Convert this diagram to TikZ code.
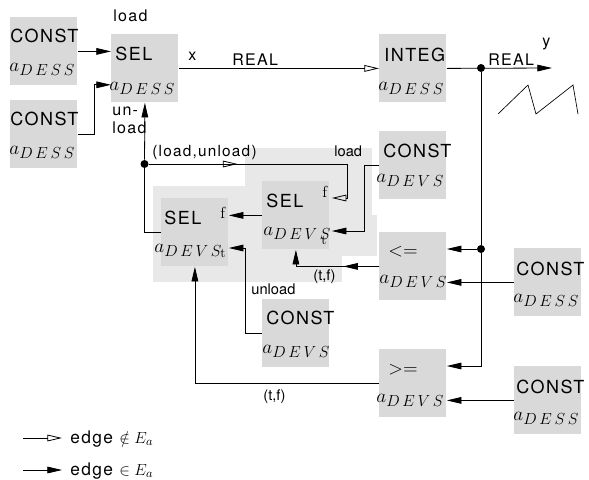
\documentclass[tikz,border=0pt]{standalone}
\usepackage{fontspec}
\setsansfont{TeX Gyre Heros}[LetterSpace=8]
\newfontfamily\compactsf{TeX Gyre Heros}
\DeclareMathSizes{14.4}{14.4}{12}{8}
\usetikzlibrary{arrows.meta,calc}
\definecolor{boxgray}{gray}{0.85}
\definecolor{netgray}{gray}{0.91}

\begin{document}
\begin{tikzpicture}[x=0.75pt,y=-0.75pt,line width=0.6pt,
    box/.style={fill=boxgray,draw=none,anchor=north west,inner sep=0pt,
      minimum width=50.25pt,minimum height=51pt},
    btitle/.style={anchor=base west,inner sep=0pt,font=\sffamily\fontsize{13.5}{16}\selectfont},
    bsub/.style={anchor=base west,inner sep=0pt,font=\fontsize{14.4}{17}\selectfont},
    lbl/.style={anchor=base west,inner sep=0pt,font=\sffamily\fontsize{12}{14}\selectfont},
    lbls/.style={anchor=base west,inner sep=0pt,font=\compactsf\fontsize{11}{13}\selectfont},
    port/.style={anchor=base west,inner sep=0pt,font=\rmfamily\fontsize{12}{14}\selectfont},
    tport/.style={port,font=\rmfamily\fontsize{10}{12}\selectfont},
    fa/.style={-{Triangle[length=11pt,width=5pt]}},
    oa/.style={-{Triangle[open,length=11pt,width=5pt]}},
    dot/.style={circle,fill,inner sep=0pt,minimum size=6pt}]
  \useasboundingbox (0,0) rectangle (589,479);

  % DEVS network behind the two SEL blocks
  \fill[netgray] (153,186) rectangle (342,282);
  \fill[netgray] (245,148) rectangle (372,256);
  \fill[netgray] (245,215) rectangle (377,256);

  % blocks
  \node[box] (c1) at (10,17) {};
  \node[btitle] (c1t) at (10,42) {CONST};
  \node[bsub] (c1s) at (9,71) {$a_{D\,E\,S\,S}$};

  \node[box] (c2) at (10,100) {};
  \node[btitle] (c2t) at (10,125) {CONST};
  \node[bsub] (c2s) at (9,154) {$a_{D\,E\,S\,S}$};

  \node[box] (seld) at (111,34) {};
  \node[btitle] (seldt) at (115,60) {SEL};
  \node[bsub] (selds) at (109,90) {$a_{D\,E\,S\,S}$};

  \node[box] (integ) at (379,34) {};
  \node[btitle] (integt) at (384,61) {INTEG};
  \node[bsub] (integs) at (378,90) {$a_{D\,E\,S\,S}$};

  \node[box] (cload) at (379,131) {};
  \node[btitle] (cloadt) at (383,157) {CONST};
  \node[bsub] (cloads) at (376,182) {$a_{D\,E\,V\,S}$};

  \node[box] (le) at (379,232) {};
  \node[bsub] (let) at (388,256) {$<=$};
  \node[bsub] (les) at (379,283) {$a_{D\,E\,V\,S}$};

  \node[box] (ge) at (379,349) {};
  \node[bsub] (get) at (388,374) {$>=$};
  \node[bsub] (ges) at (376,402) {$a_{D\,E\,V\,S}$};

  \node[box] (cle) at (514,248) {};
  \node[btitle] (clet) at (516,275) {CONST};
  \node[bsub] (cles) at (513,302) {$a_{D\,E\,S\,S}$};

  \node[box] (cge) at (514,366) {};
  \node[btitle] (cget) at (516,393) {CONST};
  \node[bsub] (cges) at (513,420) {$a_{D\,E\,S\,S}$};

  \node[box] (cunl) at (262,299) {};
  \node[btitle] (cunlt) at (266,324) {CONST};
  \node[bsub] (cunls) at (262,353) {$a_{D\,E\,V\,S}$};

  \node[box] (selr) at (262,181) {};
  \node[btitle] (selrt) at (266,207) {SEL};
  \node[bsub] (selrs) at (263,235) {$a_{D\,E\,V\,S}$};

  \node[box] (sell) at (161,198) {};
  \node[btitle] (sellt) at (164,224) {SEL};
  \node[bsub] (sells) at (154,252) {$a_{D\,E\,V\,S}$};

  % labels
  \node[lbl] (ldlab) at (113,21) {load};
  \node[lbl,anchor=north west,align=left] (unldlab) at (112,106) {un-\\load};
  \node[lbl] (xlab) at (188,60) {x};
  \node[lbl] (real1) at (232,65) {REAL};
  \node[lbl] (real2) at (488,65) {REAL};
  \node[lbl] (ylab) at (542,46) {y};
  \node[lbl,font=\sffamily\fontsize{11.5}{14}\selectfont] (ldul) at (152,156) {(load,unload)};
  \node[lbls] (ld2lab) at (334,156) {load};
  \node[port] (f1) at (322,197) {f};
  \node[port] (f2) at (220,218) {f};
  \node[tport] (t1) at (321,244) {t};
  \node[tport] (t2) at (220,257) {t};
  \node[lbls] (tf1) at (313,280) {(t,f)};
  \node[lbls] (unllab) at (251,294) {unload};
  \node[lbls] (tf2) at (263,400) {(t,f)};

  % junctions
  \node[dot] (j1) at (481,68) {};
  \node[dot] (j2) at (481,249) {};
  \node[dot] (j3) at (144.5,164) {};
  \coordinate (yout) at (552,68);

  % output signal
  \draw[line width=0.5pt] (498,114) -- (528,85) -- (536,114) -- (573,85) -- (578,114);

  % connections
  \draw[fa] (c1.east) -- (c1.east -| seld.west);
  \draw[fa] (c2.east) -- ++(17,0) |- ([shift={(0,-18)}]seld.south west);
  \draw[oa] (seld.east) -- (integ.west);
  \draw[fa] (integ.east) -- (yout);
  \draw (j1) -- (j2);
  \draw[fa] (j2) -- (j2 -| le.east);
  \draw[fa] (j2) |- ([shift={(0,17)}]ge.north east);
  \draw[fa] (cle.west) -- (cle.west -| le.east);
  \draw[fa] (cge.west) -- (cge.west -| ge.east);
  \draw[fa] (le.west) -| (selr.south);
  \draw[fa] (le.west) -- ($(le.west)!0.43!(le.west -| selr.south)$);
  \draw[fa] (cload.west) -- ++(-15,0) |- ([shift={(2,50)}]selr.north east);
  \draw[fa] (j3) -- (seld.south);
  \draw (j3) |- (sell.west);
  \draw[oa] (j3) -- ++(203,0) |- ([shift={(2,17)}]selr.north east);
  \draw[oa] (j3) -- ++(93,0);
  \draw[fa] (selr.west) -- (selr.west -| sell.east);
  \draw[fa] (cunl.west) -- ++(-17,0) |- ([shift={(0,50)}]sell.north east);
  \draw[fa] (ge.west) -| (sell.south);

  % legend
  \coordinate (l1a) at (23,438);
  \coordinate (l1b) at (62,438);
  \coordinate (l2a) at (23,470);
  \coordinate (l2b) at (62,470);
  \draw[oa] (l1a) -- (l1b);
  \draw[fa] (l2a) -- (l2b);
  \node[lbl,font=\sffamily\fontsize{13}{15}\selectfont] (leg1) at (70,443) {edge $\notin E_a$};
  \node[lbl,font=\sffamily\fontsize{13}{15}\selectfont] (leg2) at (70,475) {edge $\in E_a$};
\end{tikzpicture}
\end{document}
